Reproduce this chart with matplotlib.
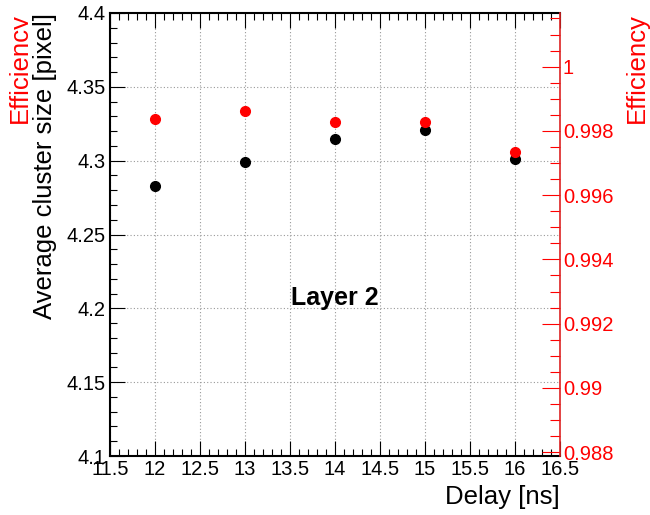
import matplotlib
matplotlib.use('Agg')
import matplotlib.pyplot as plt
from matplotlib.ticker import AutoMinorLocator
from matplotlib.transforms import Bbox

plt.rcParams['font.family'] = ['Liberation Sans', 'DejaVu Sans']

# Dados
delay = [12, 13, 14, 15, 16]
cluster_size = [4.283, 4.299, 4.3145, 4.321, 4.301]
efficiency = [0.99836, 0.99861, 0.99827, 0.99827, 0.99734]

x_ticks = [11.5, 12, 12.5, 13, 13.5, 14, 14.5, 15, 15.5, 16, 16.5]
y_ticks = [4.1, 4.15, 4.2, 4.25, 4.3, 4.35, 4.4]
eff_ticks = [0.988, 0.99, 0.992, 0.994, 0.996, 0.998, 1.0]

fig = plt.figure(figsize=(6.5, 5.15), dpi=100)
ax = fig.add_axes([110/650, 1-456/515, 450/650, 443/515])

ax.plot(delay, cluster_size, 'o', color='black', markersize=7, zorder=5)
ax.set_xlim(11.5, 16.5)
ax.set_ylim(4.1, 4.4)
ax.set_xticks(x_ticks)
ax.set_xticklabels(['11.5', '12', '12.5', '13', '13.5', '14', '14.5', '15', '15.5', '16', '16.5'])
ax.set_yticks(y_ticks)
ax.set_yticklabels(['4.1', '4.15', '4.2', '4.25', '4.3', '4.35', '4.4'])
ax.xaxis.set_minor_locator(AutoMinorLocator(5))
ax.yaxis.set_minor_locator(AutoMinorLocator(5))
ax.tick_params(which='both', direction='in', top=True, right=False, labelsize=14.5, width=0.8)
ax.tick_params(which='major', length=11, pad=3)
ax.tick_params(which='minor', length=5)
ax.grid(True, which='major', linestyle=(0, (1, 2)), color='#999999', linewidth=0.8)
for s in ['left', 'bottom', 'top']:
    ax.spines[s].set_linewidth(1.5)
ax.spines['right'].set_visible(False)

ax2 = ax.twinx()
ax2.plot(delay, efficiency, 'o', color='red', markersize=7, zorder=6)
ax2.set_ylim(0.98788, 1.00167)
ax2.set_yticks(eff_ticks)
ax2.set_yticklabels(['0.988', '0.99', '0.992', '0.994', '0.996', '0.998', '1'])
ax2.yaxis.set_minor_locator(AutoMinorLocator(4))
ax2.tick_params(axis='y', which='both', direction='in', colors='red', labelsize=14.5, width=0.8)
ax2.tick_params(axis='y', which='major', length=13, pad=2)
ax2.tick_params(axis='y', which='minor', length=7)
ax2.spines['right'].set_color('#dd2222')
ax2.spines['right'].set_linewidth(1.2)
for s in ['left', 'bottom', 'top']:
    ax2.spines[s].set_visible(False)

ax.text(0.5, 0.357, 'Layer 2', transform=ax.transAxes, fontsize=18, fontweight='bold',
        ha='center', va='center')

fig.text(45/650, 1-13/515, 'Average cluster size [pixel]', rotation=90, fontsize=18.5,
         ha='center', va='top')
fig.text(637/650, 1-13/515, 'Efficiency', rotation=90, fontsize=18.5, color='red',
         ha='center', va='top')
t = fig.text(20/650, 1-13/515, 'Efficiency', rotation=90, fontsize=18.5, color='red',
             ha='center', va='top')
t.set_clip_box(Bbox([[0, 0], [27.5, 515]]))
t.set_clip_on(True)
fig.text(560/650, 1-497/515, 'Delay [ns]', fontsize=18.5, ha='right', va='center')

plt.savefig('out.png', dpi=100)
